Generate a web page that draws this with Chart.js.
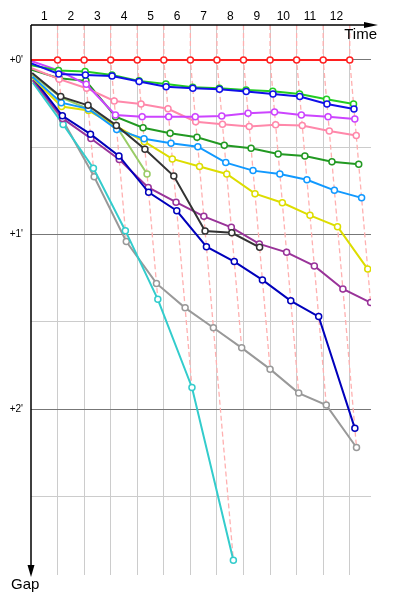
<!DOCTYPE html>
<html>
<head>
<meta charset="utf-8">
<script src="https://cdn.jsdelivr.net/npm/chart.js@4/dist/chart.umd.min.js"></script>
<style>
  html, body { margin: 0; padding: 0; background: #fff; }
  #wrap { width: 400px; height: 600px; }
</style>
</head>
<body>
<div id="wrap"><canvas id="chart"></canvas></div>
<script>
  // gaps to the leader in minutes, one value per lap (lap 0 = start)
  const laps = [0, 1, 2, 3, 4, 5, 6, 7, 8, 9, 10, 11, 12];
  const lapLabels = ['1', '2', '3', '4', '5', '6', '7', '8', '9', '10', '11', '12'];
  const gapTicks = [0, 0.5, 1, 1.5, 2, 2.5];
  const gapLabels = ["+0'", "+1'", "+2'"];

  const gapRed = [0, 0, 0, 0, 0, 0, 0, 0, 0, 0, 0, 0, 0];
  const gapBlue = [0.02, 0.08, 0.086, 0.092, 0.124, 0.153, 0.162, 0.168, 0.181, 0.195, 0.21, 0.252, 0.281];
  const gapGreen = [0.03, 0.06, 0.067, 0.086, 0.12, 0.138, 0.157, 0.162, 0.172, 0.179, 0.195, 0.225, 0.252];
  const gapViolet = [0.006, 0.06, 0.14, 0.315, 0.325, 0.325, 0.325, 0.321, 0.306, 0.298, 0.315, 0.325, 0.338];
  const gapPink = [0.048, 0.11, 0.162, 0.235, 0.252, 0.28, 0.354, 0.368, 0.382, 0.372, 0.376, 0.407, 0.433];
  const gapDarkGreen = [0.057, 0.105, 0.12, 0.325, 0.388, 0.42, 0.443, 0.489, 0.506, 0.539, 0.55, 0.583, 0.598];
  const gapBlack = [0.075, 0.21, 0.26, 0.375, 0.512, 0.665, 0.98, 0.99, 1.073];
  const gapSky = [0.097, 0.245, 0.28, 0.398, 0.452, 0.477, 0.497, 0.588, 0.634, 0.653, 0.686, 0.747, 0.79];
  const gapYellow = [0.103, 0.267, 0.29, 0.38, 0.468, 0.567, 0.61, 0.653, 0.766, 0.818, 0.89, 0.955, 1.198];
  const gapOlive = [0.086, 0.215, 0.28, 0.38, 0.653];
  const gapNavy = [0.1, 0.32, 0.425, 0.55, 0.758, 0.864, 1.07, 1.155, 1.26, 1.38, 1.47, 2.11];
  const gapPlum = [0.115, 0.335, 0.45, 0.57, 0.73, 0.815, 0.896, 0.959, 1.054, 1.102, 1.18, 1.312, 1.39];
  const gapCyan = [0.13, 0.37, 0.62, 0.978, 1.371, 1.876, 2.865];
  const gapGrey = [0.12, 0.345, 0.669, 1.04, 1.28, 1.42, 1.534, 1.649, 1.771, 1.908, 1.977, 2.22];

  const LAP_MINUTES = 1.77;
  const Y_MIN = -0.2;
  const Y_MAX = 2.95;

  const riders = [
    { gaps: gapRed, color: '#ff2020' },
    { gaps: gapBlue, color: '#1010e8' },
    { gaps: gapGreen, color: '#22cc22' },
    { gaps: gapViolet, color: '#cc44ff' },
    { gaps: gapPink, color: '#ff88aa' },
    { gaps: gapDarkGreen, color: '#229922' },
    { gaps: gapBlack, color: '#333333' },
    { gaps: gapSky, color: '#1199ff' },
    { gaps: gapYellow, color: '#dddd00' },
    { gaps: gapOlive, color: '#99cc66' },
    { gaps: gapNavy, color: '#0000bb' },
    { gaps: gapPlum, color: '#993399' },
    { gaps: gapCyan, color: '#33cccc' },
    { gaps: gapGrey, color: '#999999' }
  ];

  function toPoints(gaps) {
    return gaps.map((g, i) => ({ x: laps[i] + g / LAP_MINUTES, y: g }));
  }

  const datasets = riders.map(r => ({
    data: toPoints(r.gaps),
    borderColor: r.color,
    backgroundColor: '#ffffff',
    borderWidth: 2,
    pointRadius: ctx => ctx.dataIndex === 0 ? 0 : 3,
    pointBorderWidth: 1.5,
    pointBackgroundColor: '#ffffff',
    pointBorderColor: r.color
  }));

  // dashed line joining every rider on the same lap
  for (let lap = 1; lap < laps.length; lap++) {
    const gaps = riders.map(r => r.gaps[lap]).filter(g => g !== undefined).sort((a, b) => a - b);
    const points = [{ x: lap, y: Y_MIN }];
    gaps.forEach(g => points.push({ x: lap + g / LAP_MINUTES, y: g }));
    datasets.push({
      data: points,
      borderColor: '#ffb0b0',
      borderWidth: 1.3,
      borderDash: [5, 3],
      pointRadius: 0
    });
  }

  const xTicks = [];
  for (let i = 1; i <= 25; i++) xTicks.push(i / 2);

  const axisArrows = {
    id: 'axisArrows',
    afterDraw(chart) {
      const { ctx, chartArea: a } = chart;
      ctx.save();
      ctx.strokeStyle = '#000';
      ctx.fillStyle = '#000';
      ctx.lineWidth = 1.5;
      ctx.beginPath();
      ctx.moveTo(a.left, a.top);
      ctx.lineTo(a.right - 7, a.top);
      ctx.moveTo(a.left, a.top);
      ctx.lineTo(a.left, a.bottom - 10);
      ctx.stroke();
      ctx.beginPath();
      ctx.moveTo(a.right + 7, a.top);
      ctx.lineTo(a.right - 7, a.top - 3);
      ctx.lineTo(a.right - 7, a.top + 3);
      ctx.closePath();
      ctx.fill();
      ctx.beginPath();
      ctx.moveTo(a.left, a.bottom + 2);
      ctx.lineTo(a.left - 3.5, a.bottom - 10);
      ctx.lineTo(a.left + 3.5, a.bottom - 10);
      ctx.closePath();
      ctx.fill();
      ctx.font = '15px "Liberation Sans"';
      ctx.textBaseline = 'top';
      ctx.textAlign = 'right';
      ctx.fillText('Time', a.right + 6, a.top + 2);
      ctx.textAlign = 'left';
      ctx.fillText('Gap', 11, a.bottom + 2);
      ctx.restore();
    }
  };

  new Chart(document.getElementById('chart'), {
    type: 'line',
    data: { datasets: datasets },
    plugins: [axisArrows],
    options: {
      responsive: true,
      maintainAspectRatio: false,
      animation: false,
      events: [],
      layout: { padding: { left: 0, top: 0, right: 29, bottom: 25 } },
      plugins: { legend: { display: false }, tooltip: { enabled: false } },
      elements: { line: { tension: 0 } },
      scales: {
        x: {
          type: 'linear',
          position: 'top',
          min: 0,
          max: 12.8,
          afterBuildTicks: scale => { scale.ticks = xTicks.map(v => ({ value: v })); },
          afterFit: scale => { scale.height = 25; },
          border: { display: false },
          grid: {
            drawTicks: false,
            color: c => Number.isInteger(c.tick.value) ? '#cccccc' : 'rgba(0,0,0,0)',
            lineWidth: 1
          },
          ticks: {
            padding: 1,
            maxRotation: 0,
            autoSkip: false,
            color: '#000',
            font: { family: 'Liberation Sans', size: 12 },
            callback: v => Number.isInteger(v) ? '' : (lapLabels[Math.floor(v)] || '')
          }
        },
        y: {
          type: 'linear',
          reverse: true,
          min: Y_MIN,
          max: Y_MAX,
          afterBuildTicks: scale => { scale.ticks = gapTicks.map(v => ({ value: v })); },
          afterFit: scale => { scale.width = 31; },
          border: { display: false },
          grid: {
            drawTicks: false,
            color: c => Number.isInteger(c.tick.value) ? '#777777' : '#cccccc',
            lineWidth: 1
          },
          ticks: {
            padding: 8,
            autoSkip: false,
            color: '#000',
            font: { family: 'Liberation Sans', size: 10 },
            callback: v => Number.isInteger(v) ? (gapLabels[v] || '') : ''
          }
        }
      }
    }
  });
</script>
</body>
</html>
